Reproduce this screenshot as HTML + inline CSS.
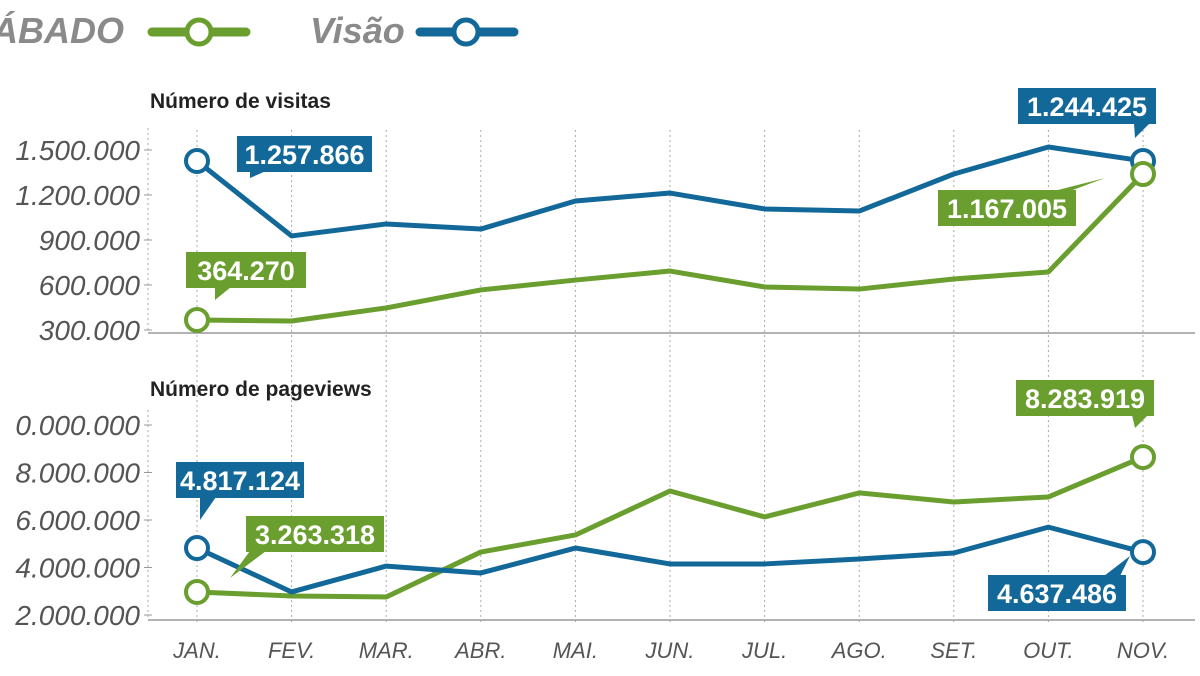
<!DOCTYPE html>
<html><head><meta charset="utf-8"><style>
body{margin:0;background:#fff;}
svg{display:block;font-family:"Liberation Sans",sans-serif;}
</style></head><body>
<svg id="c" width="1200" height="676" viewBox="0 0 1200 676">
<g>
<text x="-8" y="43" font-size="36" font-weight="bold" font-style="italic" fill="#8a8a8a">ÁBADO</text>
<line x1="152" y1="32" x2="246" y2="32" stroke="#6a9f2f" stroke-width="9" stroke-linecap="round"/>
<circle cx="199" cy="32" r="12" fill="#fff" stroke="#6a9f2f" stroke-width="5"/>
<text x="310" y="43" font-size="36" font-weight="bold" font-style="italic" fill="#8a8a8a">Visão</text>
<line x1="420" y1="32" x2="514" y2="32" stroke="#13689a" stroke-width="9" stroke-linecap="round"/>
<circle cx="466" cy="32" r="12" fill="#fff" stroke="#13689a" stroke-width="5"/>
</g>
<text x="150" y="108" font-size="21" font-weight="bold" fill="#222">Número de visitas</text>
<text x="150" y="396" font-size="21" font-weight="bold" fill="#222">Número de pageviews</text>
<g id="grid"></g><g id="marks"></g>
</svg>
<script>
const months=["JAN.","FEV.","MAR.","ABR.","MAI.","JUN.","JUL.","AGO.","SET.","OUT.","NOV."];
const visitTicks=[300000,600000,900000,1200000,1500000];
const visitTickLabels=["300.000","600.000","900.000","1.200.000","1.500.000"];
const pvTicks=[2000000,4000000,6000000,8000000,10000000];
const pvTickLabels=["2.000.000","4.000.000","6.000.000","8.000.000","0.000.000"];
const visitsVisao=[1427000,927000,1007000,973000,1160000,1213000,1107000,1093000,1340000,1520000,1427000];
const visitsSabado=[367000,360000,447000,567000,633000,693000,587000,573000,640000,687000,1340000];
const pvSabado=[2970000,2800000,2760000,4650000,5370000,7220000,6130000,7140000,6760000,6970000,8650000];
const pvVisao=[4820000,2970000,4060000,3770000,4820000,4150000,4150000,4360000,4610000,5700000,4650000];
const NS="http://www.w3.org/2000/svg";
const grid=document.getElementById('grid'),marks=document.getElementById('marks');
function mk(t,a,p,txt){const e=document.createElementNS(NS,t);for(const k in a)e.setAttribute(k,a[k]);if(txt!==undefined)e.textContent=txt;p.appendChild(e);return e;}
const xS=i=>197+i*94.6;
const yV=v=>330-(v-300000)/300000*45;
const yP=v=>615-(v-2000000)/2000000*47.5;
months.forEach((m,i)=>{
 const l=mk('line',{x1:xS(i),x2:xS(i),y1:130,y2:625,stroke:'#aaa','stroke-width':1,'stroke-dasharray':'2,3'},grid);
 
 
 const t=mk('text',{x:xS(i),y:658,'text-anchor':'middle','font-size':22,'font-style':'italic',fill:'#555'},grid,m);
 
 
});
mk('line',{x1:148,x2:148,y1:128,y2:333,stroke:'#aaa','stroke-dasharray':'2,3'},grid);
mk('line',{x1:148,x2:148,y1:410,y2:620,stroke:'#aaa','stroke-dasharray':'2,3'},grid);
mk('line',{x1:148,x2:1195,y1:333,y2:333,stroke:'#999','stroke-width':1.5},grid);
mk('line',{x1:148,x2:1195,y1:620,y2:620,stroke:'#999','stroke-width':1.5},grid);
visitTicks.forEach((v,i)=>{
 mk('line',{x1:144,x2:152,y1:yV(v),y2:yV(v),stroke:'#999'},grid);
 const t=mk('text',{x:140,y:yV(v)+10,'text-anchor':'end','font-size':28,'font-style':'italic',fill:'#555'},grid,visitTickLabels[i]);
 
 
});
pvTicks.forEach((v,i)=>{
 mk('line',{x1:144,x2:152,y1:yP(v),y2:yP(v),stroke:'#999'},grid);
 const t=mk('text',{x:140,y:yP(v)+10,'text-anchor':'end','font-size':28,'font-style':'italic',fill:'#555'},grid,pvTickLabels[i]);
 
 
});
function series(vals,yf,col,name){
 const p=mk('polyline',{points:vals.map((v,i)=>xS(i)+','+yf(v)).join(' '),fill:'none',stroke:col,'stroke-width':5,'stroke-linejoin':'round'},marks);
 
 
 [0,vals.length-1].forEach(i=>{
  const c=mk('circle',{cx:xS(i),cy:yf(vals[i]),r:11,fill:'#fff',stroke:col,'stroke-width':4},marks);
  
  
 });
}
series(visitsVisao,yV,'#13689a','visits-visao');
series(visitsSabado,yV,'#6a9f2f','visits-sabado');
series(pvSabado,yP,'#6a9f2f','pageviews-sabado');
series(pvVisao,yP,'#13689a','pageviews-visao');
function callout(x,y,w,txt,col,tx,ty,name){
 mk('rect',{x:x,y:y,width:w,height:36,fill:col},marks);
 const by=ty>y?y+35:y+1;
 const bx=Math.min(Math.max(tx,x+4),x+w-22);
 mk('polygon',{points:`${bx},${by} ${bx+16},${by} ${tx},${ty}`,fill:col},marks);
 const t=mk('text',{x:x+w/2,y:y+28,'text-anchor':'middle','font-size':27,'font-weight':'bold',fill:'#fff'},marks,txt);
 
 
}
callout(237,136,135,'1.257.866','#13689a',250,178,'callout-visits-visao-jan');
callout(186,252,120,'364.270','#6a9f2f',215,300,'callout-visits-sabado-jan');
callout(1018,88,138,'1.244.425','#13689a',1135,138,'callout-visits-visao-nov');
callout(938,190,138,'1.167.005','#6a9f2f',1105,178,'callout-visits-sabado-nov');
callout(176,462,128,'4.817.124','#13689a',200,520,'callout-pv-visao-jan');
callout(246,516,138,'3.263.318','#6a9f2f',230,578,'callout-pv-sabado-jan');
callout(1016,380,138,'8.283.919','#6a9f2f',1135,428,'callout-pv-sabado-nov');
callout(988,575,138,'4.637.486','#13689a',1130,556,'callout-pv-visao-nov');
</script>
</body></html>
